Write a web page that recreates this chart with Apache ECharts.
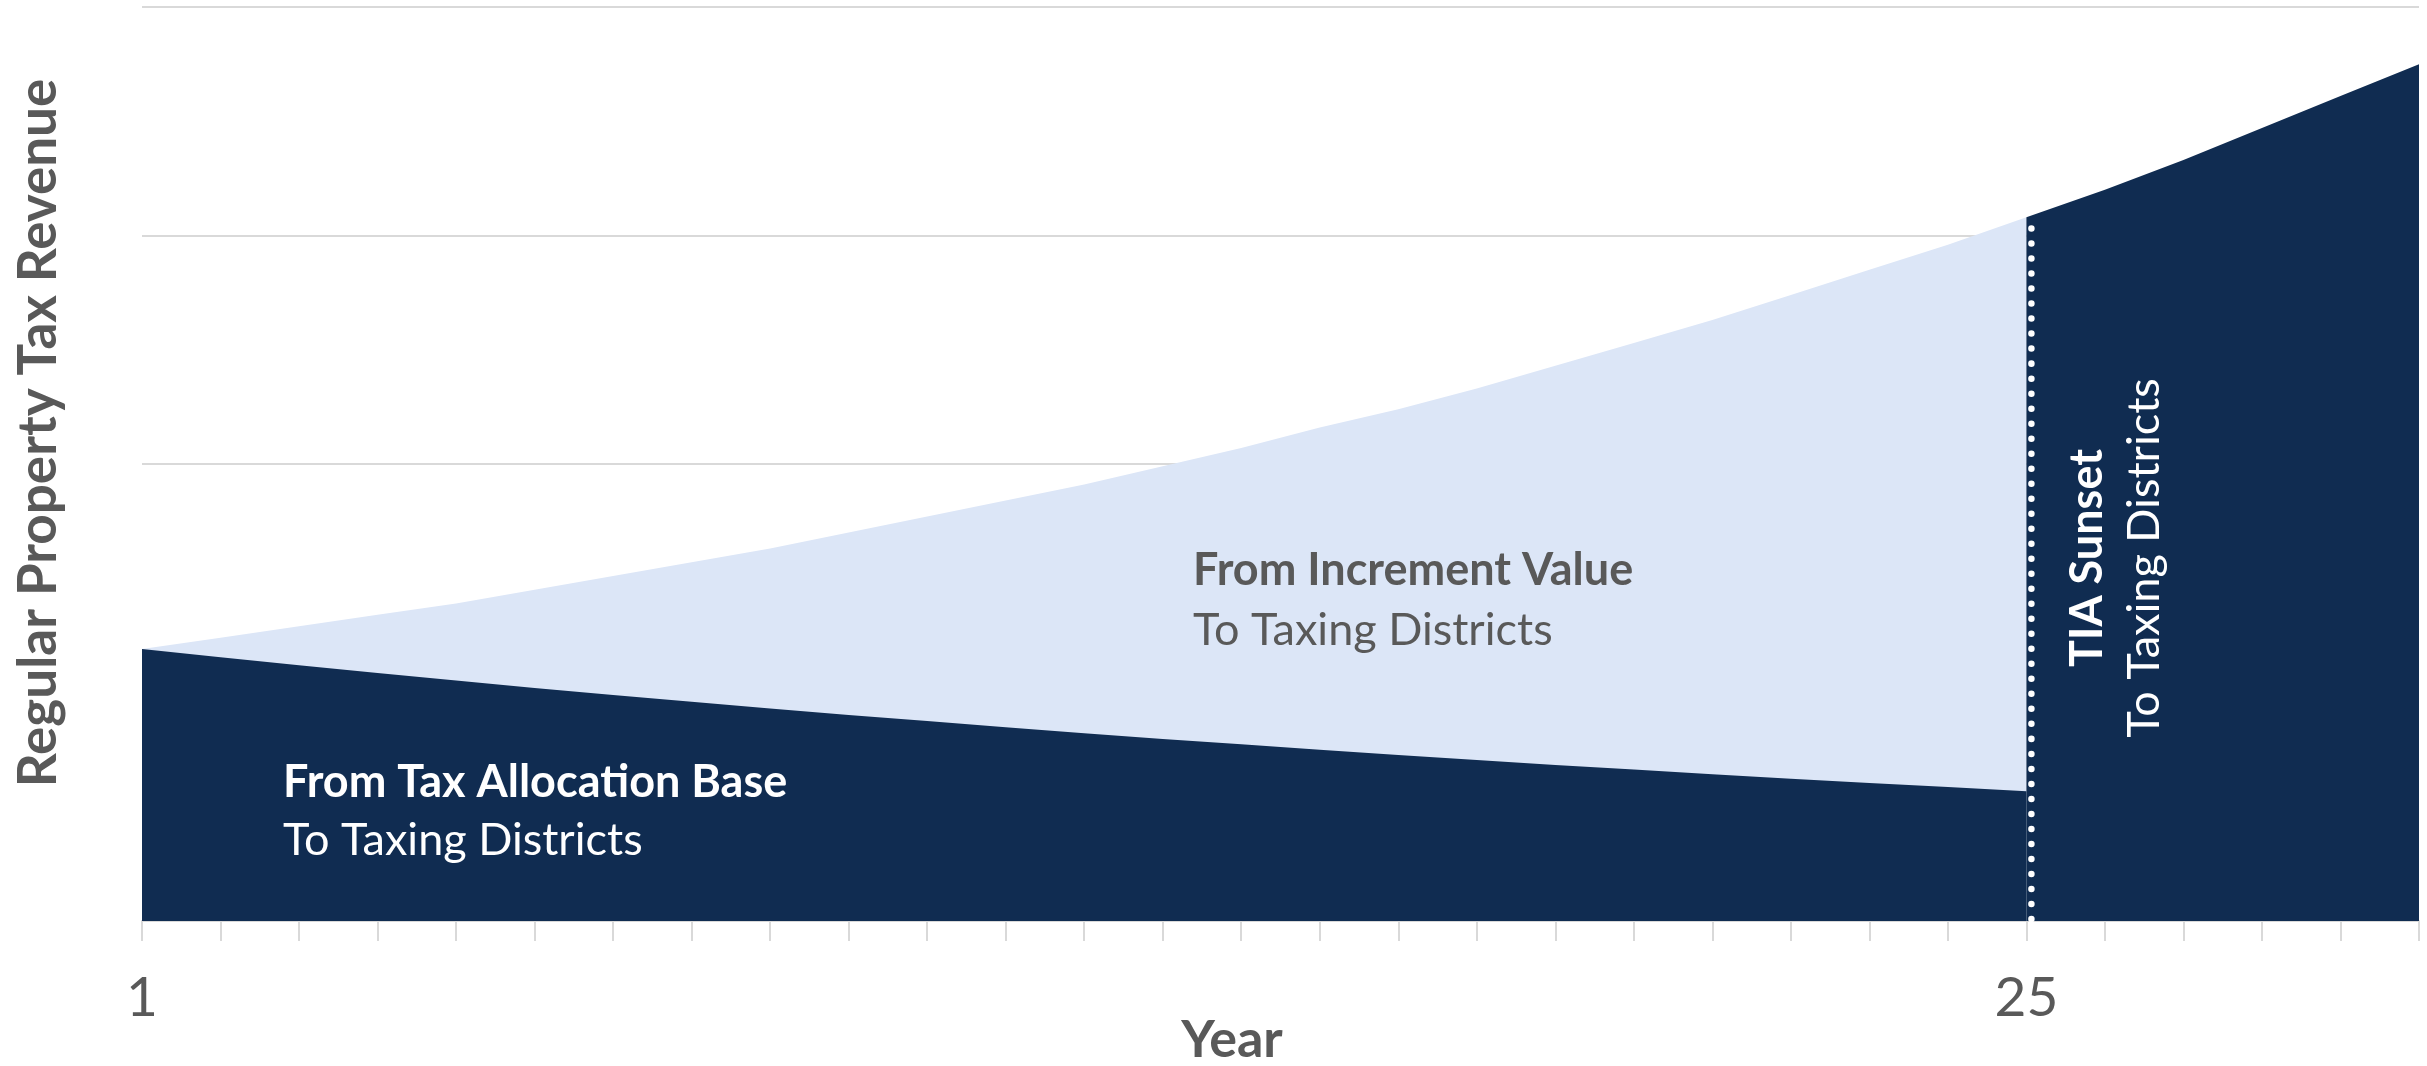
<!DOCTYPE html>
<html>
<head>
<meta charset="utf-8">
<script src="https://cdn.jsdelivr.net/npm/echarts@6/dist/echarts.min.js"></script>
<style>
html,body{margin:0;padding:0;background:#fff;}
#chart{width:2427px;height:1066px;}
</style>
</head>
<body>
<div id="chart"></div>
<script>
// Years on the x axis
const years = ['1','2','3','4','5','6','7','8','9','10','11','12','13','14','15','16','17','18','19','20','21','22','23','24','25','26','27','28','29','30'];
// Tick labels shown on the x axis
const shownYearLabels = ['1','25'];
// Year the TIA sunsets
const sunsetYear = '25';
// Total regular property tax revenue (top edge), years 1-30
const totalRevenue = [1.19,1.24,1.29,1.34,1.39,1.45,1.51,1.57,1.63,1.70,1.77,1.84,1.91,1.99,2.07,2.16,2.24,2.33,2.43,2.53,2.63,2.74,2.85,2.96,3.08,3.20,3.33,3.47,3.61,3.75];
// Revenue from the tax allocation base, years 1-25
const baseRevenue = [1.19,1.154,1.119,1.085,1.052,1.020,0.989,0.959,0.930,0.902,0.875,0.848,0.822,0.797,0.773,0.750,0.727,0.705,0.683,0.663,0.642,0.623,0.604,0.586,0.568];
// Texts
const yTitle = 'Regular Property Tax Revenue';
const xTitle = 'Year';
const incTitle = 'From Increment Value';
const baseTitle = 'From Tax Allocation Base';
const sunsetTitle = 'TIA Sunset';
const toDistricts = 'To Taxing Districts';

const NAVY = '#102C51';
const LIGHT = '#DCE6F7';
const GRAY = '#595959';
const GRID = '#D9D9D9';
const FONT = 'Lato, "Open Sans", sans-serif';

const sunsetIdx = years.indexOf(sunsetYear);
const incrementData = years.map((y, i) => i <= sunsetIdx ? totalRevenue[i] : null);
const baseData = years.map((y, i) => i < baseRevenue.length ? baseRevenue[i] : null);
const postData = years.map((y, i) => i >= sunsetIdx ? totalRevenue[i] : null);

const chart = echarts.init(document.getElementById('chart'), null, {renderer: 'canvas'});

function areaSeries(name, data, color, z) {
  return {
    name: name,
    type: 'line',
    data: data,
    showSymbol: false,
    symbol: 'none',
    smooth: false,
    connectNulls: false,
    lineStyle: {width: 0, color: color},
    areaStyle: {color: color, opacity: 1},
    silent: true,
    z: z
  };
}

const texts = [
  {type: 'text', x: 39, y: 433, rotation: Math.PI / 2,
   style: {text: yTitle, fill: GRAY, font: 'bold 53px ' + FONT, textAlign: 'center', textVerticalAlign: 'middle'}},
  {type: 'text', x: 1232, y: 1040,
   style: {text: xTitle, fill: GRAY, font: 'bold 52px ' + FONT, textAlign: 'center', textVerticalAlign: 'middle'}},
  {type: 'text', x: 1193, y: 570, z: 10,
   style: {text: incTitle, fill: GRAY, font: 'bold 45px ' + FONT, textAlign: 'left', textVerticalAlign: 'middle'}},
  {type: 'text', x: 1193, y: 630, z: 10,
   style: {text: toDistricts, fill: GRAY, font: '45px ' + FONT, textAlign: 'left', textVerticalAlign: 'middle'}},
  {type: 'text', x: 283, y: 782, z: 10,
   style: {text: baseTitle, fill: '#ffffff', font: 'bold 45px ' + FONT, textAlign: 'left', textVerticalAlign: 'middle'}},
  {type: 'text', x: 283, y: 840, z: 10,
   style: {text: toDistricts, fill: '#ffffff', font: '45px ' + FONT, textAlign: 'left', textVerticalAlign: 'middle'}},
  {type: 'text', x: 2087, y: 558, rotation: Math.PI / 2, z: 10,
   style: {text: sunsetTitle, fill: '#ffffff', font: 'bold 45px ' + FONT, textAlign: 'center', textVerticalAlign: 'middle'}},
  {type: 'text', x: 2144, y: 558, rotation: Math.PI / 2, z: 10,
   style: {text: toDistricts, fill: '#ffffff', font: '45px ' + FONT, textAlign: 'center', textVerticalAlign: 'middle'}}
];

chart.setOption({
  animation: false,
  grid: {left: 142, right: 8, top: 7, bottom: 145, containLabel: false},
  xAxis: {
    type: 'category',
    data: years,
    boundaryGap: false,
    axisLine: {show: true, lineStyle: {color: GRID, width: 2}},
    axisTick: {show: true, interval: 0, length: 20, lineStyle: {color: GRID, width: 2}},
    axisLabel: {
      interval: 0,
      formatter: v => shownYearLabels.indexOf(v) >= 0 ? v : '',
      color: GRAY, fontFamily: FONT, fontSize: 55, margin: 50
    },
    splitLine: {show: false}
  },
  yAxis: {
    type: 'value',
    min: 0, max: 4, interval: 1,
    axisLine: {show: false},
    axisTick: {show: false},
    axisLabel: {show: false},
    splitLine: {show: true, lineStyle: {color: GRID, width: 2}}
  },
  series: [
    areaSeries('From Increment Value', incrementData, LIGHT, 2),
    areaSeries('From Tax Allocation Base', baseData, NAVY, 3),
    areaSeries('After TIA Sunset', postData, NAVY, 3)
  ],
  graphic: texts
});

// Dotted sunset line, positioned through the chart's own scales
const p0 = chart.convertToPixel({xAxisIndex: 0, yAxisIndex: 0}, [sunsetYear, 0]);
const p1 = chart.convertToPixel({xAxisIndex: 0, yAxisIndex: 0}, [sunsetYear, totalRevenue[sunsetIdx]]);
const dx = 5;
chart.setOption({
  graphic: texts.concat([{
    type: 'line', z: 20, silent: true,
    shape: {x1: p0[0] + dx, y1: p0[1] - 2, x2: p1[0] + dx, y2: p1[1] + 6},
    style: {stroke: '#ffffff', lineWidth: 6.5, lineDash: [0.01, 15], lineCap: 'round'}
  }])
});
</script>
</body>
</html>
